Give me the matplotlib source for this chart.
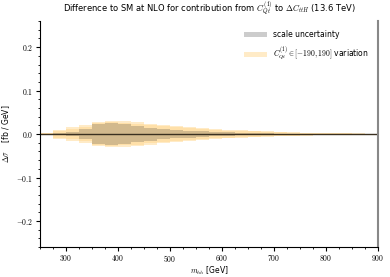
import numpy as np
import matplotlib
matplotlib.use('Agg')
import matplotlib.pyplot as plt
from matplotlib.patches import Patch
from matplotlib.ticker import MultipleLocator, FuncFormatter

plt.rcParams['mathtext.fontset'] = 'cm'
plt.rcParams['font.family'] = ['DejaVu Sans']

# bin edges in m_hh [GeV]
edges = np.arange(250, 925, 25)

# half-widths of the bands per bin [fb/GeV]
var_outer = [0.002, 0.0105, 0.0155, 0.021, 0.028, 0.030, 0.029, 0.027, 0.024, 0.021, 0.019, 0.016, 0.014,
             0.012, 0.010, 0.009, 0.0077, 0.0065, 0.0054, 0.0045, 0.0035, 0.0028, 0.0022, 0.0018, 0.0015, 0.0012]
var_inner = [0.0015, 0.008, 0.012, 0.017, 0.025, 0.027, 0.026, 0.024, 0.021, 0.018, 0.016, 0.014, 0.012,
             0.010, 0.008, 0.007, 0.006, 0.005, 0.0042, 0.0035, 0.0028, 0.0022, 0.0018, 0.0014, 0.0012, 0.001]
scale_unc = [0.0005, 0.003, 0.005, 0.012, 0.023, 0.025, 0.023, 0.019, 0.015, 0.012, 0.010, 0.008, 0.006,
             0.005, 0.004, 0.003, 0.002, 0.0015, 0.0012, 0.001, 0.0008, 0.0006, 0.0005, 0.0004, 0.0003, 0.0003]
central = [0.0] * 26


def stepify(v):
    v = np.asarray(v)
    return np.append(v, v[-1])


fig = plt.figure(figsize=(3.9, 2.77), dpi=100)
ax = fig.add_axes([0.1026, 0.108, 0.8666, 0.816])

c = stepify(central)
for w, a in [(var_outer, 0.22), (var_inner, 0.15)]:
    w = stepify(w)
    ax.fill_between(edges, c - w, c + w, step='post', color='orange', alpha=a, lw=0)
s = stepify(scale_unc)
ax.fill_between(edges, c - s, c + s, step='post', color='#8a7a60', alpha=0.38, lw=0)
ax.step(edges, c, where='post', color='#3a3020', lw=1.0)

ax.set_xlim(250, 900)
ax.set_ylim(-0.26, 0.26)
ax.xaxis.set_major_locator(MultipleLocator(100))
ax.xaxis.set_minor_locator(MultipleLocator(25))
ax.yaxis.set_major_locator(MultipleLocator(0.1))
ax.yaxis.set_minor_locator(MultipleLocator(0.02))
ax.xaxis.set_major_formatter(FuncFormatter(lambda x, p: '$%d$' % x))
ax.yaxis.set_major_formatter(FuncFormatter(lambda y, p: '$%.1f$' % (0 if abs(y) < 1e-9 else y)))
ax.tick_params(labelsize=5.5, length=3, width=0.8, pad=2)
ax.tick_params(axis='x', pad=1.5)
ax.tick_params(which='minor', length=1.5, width=0.6)

ax.spines['top'].set_visible(False)
ax.spines['right'].set_color('#888888')
ax.spines['right'].set_linewidth(1.5)

ax.set_xlabel(r'$m_{hh}$ [GeV]', fontsize=5.5, labelpad=0)
ax.set_ylabel(r'$\Delta\sigma$    [fb / GeV]', fontsize=5.5, labelpad=3)
ax.set_title(r'Difference to SM at NLO for contribution from $C_{Qt}^{(1)}$ to $\Delta C_{ttH}$ (13.6 TeV)',
             fontsize=6, pad=7)

handles = [Patch(color='gray', alpha=0.4, lw=0),
           Patch(color='orange', alpha=0.22, lw=0)]
labels = ['scale uncertainty', r'$C_{Qt}^{(1)} \in [-190, 190]$ variation']
ax.legend(handles, labels, loc='upper right', frameon=False, fontsize=5.5,
          handlelength=3, borderaxespad=0.8, labelspacing=0.9)

fig.savefig('out.png', dpi=100)
